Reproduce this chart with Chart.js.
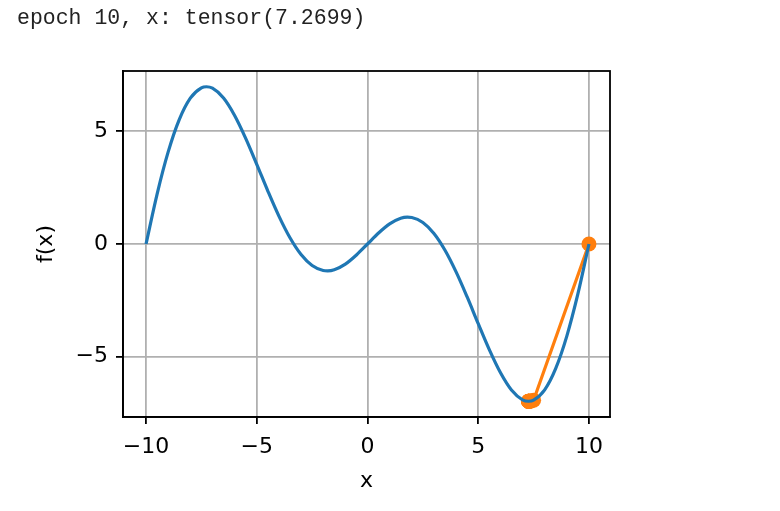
<!DOCTYPE html>
<html>
<head>
<meta charset="utf-8">
<script src="https://cdn.jsdelivr.net/npm/chart.js@4.4.1/dist/chart.umd.min.js"></script>
<style>
html,body{margin:0;padding:0;background:#fff;}
#wrap{width:780px;height:511px;position:relative;}
</style>
</head>
<body>
<div id="wrap"><canvas id="c" width="780" height="511"></canvas></div>
<script>
// f(x) curve
const curveX = [-10,-9.5,-9,-8.5,-8,-7.5,-7.27,-7,-6.5,-6,-5.5,-5,-4.5,-4,-3.5,-3,-2.5,-2,-1.8,-1.5,-1,-0.5,0,0.5,1,1.5,1.8,2,2.5,3,3.5,4,4.5,5,5.5,6,6.5,7,7.27,7.5,8,8.5,9,9.5,10];
const curveY = [0,2.218,4.086,5.520,6.472,6.929,6.978,6.914,6.480,5.706,4.690,3.536,2.351,1.236,0.275,-0.469,-0.957,-1.176,-1.190,-1.141,-0.891,-0.486,0,0.486,0.891,1.141,1.190,1.176,0.957,0.469,-0.275,-1.236,-2.351,-3.536,-4.690,-5.706,-6.480,-6.914,-6.978,-6.929,-6.472,-5.520,-4.086,-2.218,0];
// optimisation trajectory
const pathX = [10,7.5,7.387,7.328,7.299,7.284,7.277,7.273,7.271,7.270,7.2699];
const pathY = [0,-6.929,-6.966,-6.975,-6.977,-6.978,-6.978,-6.978,-6.978,-6.978,-6.978];
const xTicks = [-10,-5,0,5,10];
const yTicks = [-5,0,5];
const titleText = 'epoch 10, x: tensor(7.2699)';

const frame = {
  id:'frame',
  afterDatasetsDraw(chart){
    const a = chart.chartArea, ctx = chart.ctx;
    ctx.save();
    ctx.strokeStyle = '#000';
    ctx.lineWidth = 1.8;
    ctx.strokeRect(a.left, a.top, a.right - a.left, a.bottom - a.top);
    ctx.restore();
  }
};

const tickFont = {family:'DejaVu Sans', size:22};
new Chart(document.getElementById('c'), {
  type:'line',
  data:{
    datasets:[
      {data: curveX.map((x,i)=>({x, y:curveY[i]})), borderColor:'#1f77b4', borderWidth:3.2, pointRadius:0, cubicInterpolationMode:'monotone', fill:false},
      {data: pathX.map((x,i)=>({x, y:pathY[i]})), borderColor:'#ff7f0e', backgroundColor:'#ff7f0e', borderWidth:3.2, pointRadius:7.5, pointBorderWidth:0, pointBackgroundColor:'#ff7f0e', tension:0, fill:false}
    ]
  },
  options:{
    responsive:false,
    animation:false,
    clip:false,
    layout:{padding:{left:17, right:170, top:0, bottom:0}},
    plugins:{
      legend:{display:false},
      tooltip:{enabled:false},
      title:{display:true, text:titleText, align:'start', color:'#222',
        font:{family:'Liberation Mono', size:21.5, weight:'normal', lineHeight:1.2},
        padding:{top:5, bottom:40.2}}
    },
    scales:{
      x:{type:'linear', min:-11.04, max:10.95,
        afterBuildTicks:s=>{s.ticks = xTicks.map(v=>({value:v}));},
        afterFit:s=>{s.height = 94;},
        ticks:{font:tickFont, color:'#000', padding:10, maxRotation:0,
          callback:v=>String(v).replace('-','\u2212')},
        grid:{color:'#b0b0b0', lineWidth:1.8, tickColor:'#000', tickLength:7, tickWidth:1.8},
        border:{display:true, color:'#000', width:1.8},
        title:{display:true, text:'x', color:'#000', font:{family:'DejaVu Sans', size:22, lineHeight:1.2}, padding:{top:0,bottom:17}}
      },
      y:{type:'linear', min:-7.676, max:7.676,
        afterBuildTicks:s=>{s.ticks = yTicks.map(v=>({value:v}));},
        afterFit:s=>{s.width = 106;},
        ticks:{font:tickFont, color:'#000', padding:8,
          callback:v=>String(v).replace('-','\u2212')},
        grid:{color:'#b0b0b0', lineWidth:1.8, tickColor:'#000', tickLength:7, tickWidth:1.8},
        border:{display:true, color:'#000', width:1.8},
        title:{display:true, text:'f(x)', color:'#000', font:{family:'DejaVu Sans', size:22, lineHeight:1.2}, padding:{top:16,bottom:0}}
      }
    }
  },
  plugins:[frame]
});
</script>
</body>
</html>
